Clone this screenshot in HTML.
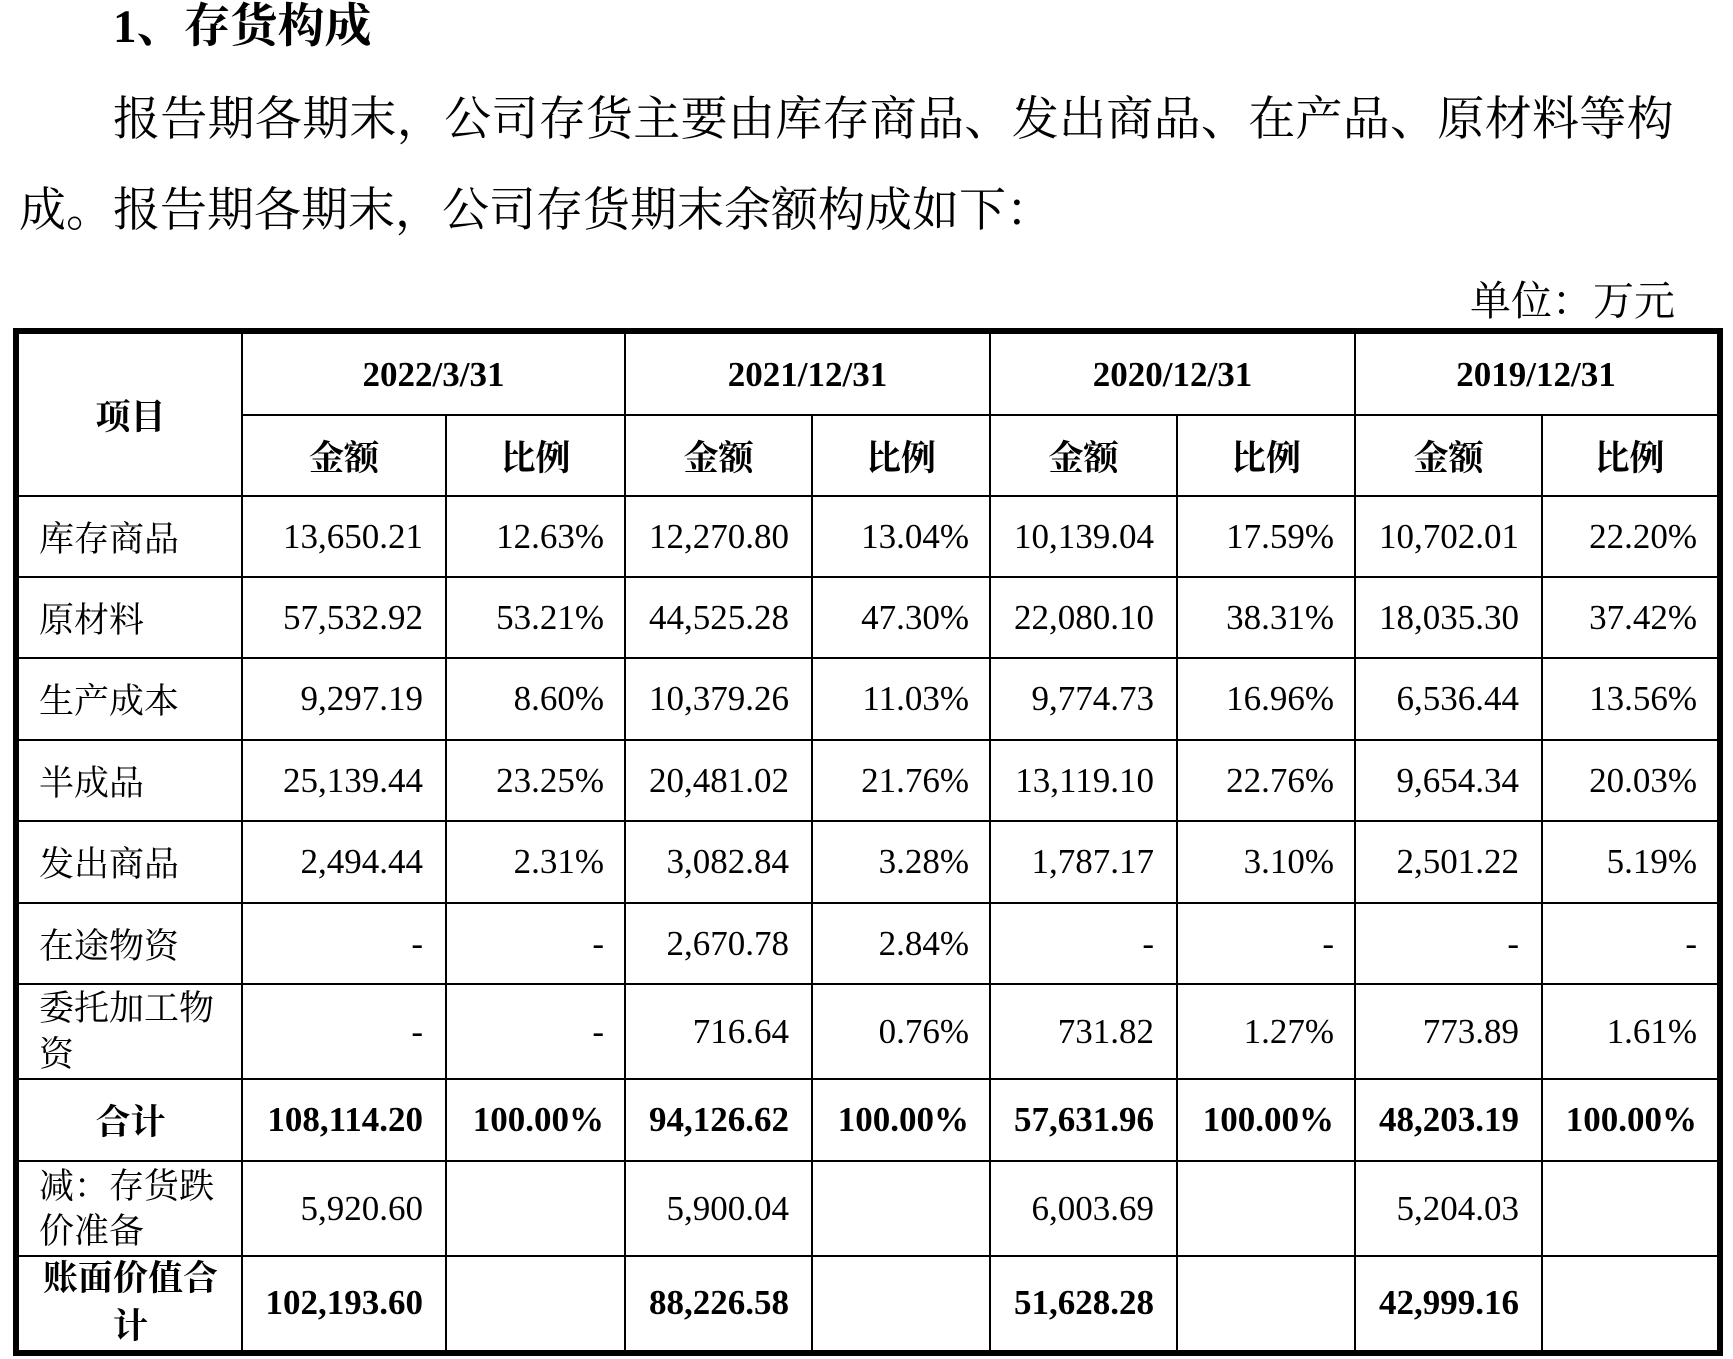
<!DOCTYPE html>
<html>
<head>
<meta charset="utf-8">
<style>
  html, body { margin:0; padding:0; }
  body { width:1733px; height:1359px; background:#fff; position:relative; overflow:hidden;
         font-family:"Liberation Serif","Noto Serif CJK SC",serif; color:#000; }
  .t { position:absolute; white-space:nowrap; }
  .title { left:113px; top:4px; font-size:47px; line-height:47px; font-weight:700; }
  .p1 { left:113px; top:97px; font-size:47px; line-height:47px; letter-spacing:0.3px; }
  .p2 { left:19px; top:188px; font-size:47px; line-height:47px; }
  .unit { right:58px; top:281px; font-size:41px; line-height:41px; }
  .frame { position:absolute; left:13px; top:328px; width:1710px; height:1028px; border:6px solid #000; box-sizing:border-box; }
  .h { position:absolute; height:2px; background:#000; }
  .v { position:absolute; width:2px; background:#000; }
  .g { position:absolute; left:19px; top:334px; width:1698px; height:1016px; display:grid;
       grid-template-columns:223px 204px 179px 187px 178px 187px 178px 187px 175px;
       grid-template-rows:81px 81px 81px 81px 82px 81px 82px 81px 95px 82px 95px 94px;
       font-size:35px; }
  .g > div { display:flex; align-items:center; box-sizing:border-box; overflow:visible; white-space:nowrap; }
  .c { justify-content:center; font-weight:700; }
  .a { justify-content:flex-end; padding-right:23px; }
  .p { justify-content:flex-end; padding-right:21px; }
  .pe { justify-content:flex-end; padding-right:20px; }
  .l { justify-content:flex-start; padding-left:20px; }
  .w { white-space:normal !important; padding-left:20px; padding-right:20px; }
  .b { font-weight:700; }
</style>
</head>
<body>
<div class="t title">1、存货构成</div>
<div class="t p1">报告期各期末，公司存货主要由库存商品、发出商品、在产品、原材料等构</div>
<div class="t p2">成。报告期各期末，公司存货期末余额构成如下：</div>
<div class="t unit">单位：万元</div>

<div class="g">
  <div class="c" style="grid-row:1/3;grid-column:1;">项目</div>
  <div class="c" style="grid-row:1;grid-column:2/4;">2022/3/31</div>
  <div class="c" style="grid-row:1;grid-column:4/6;">2021/12/31</div>
  <div class="c" style="grid-row:1;grid-column:6/8;">2020/12/31</div>
  <div class="c" style="grid-row:1;grid-column:8/10;">2019/12/31</div>
  <div class="c" style="grid-row:2;grid-column:2;">金额</div>
  <div class="c" style="grid-row:2;grid-column:3;">比例</div>
  <div class="c" style="grid-row:2;grid-column:4;">金额</div>
  <div class="c" style="grid-row:2;grid-column:5;">比例</div>
  <div class="c" style="grid-row:2;grid-column:6;">金额</div>
  <div class="c" style="grid-row:2;grid-column:7;">比例</div>
  <div class="c" style="grid-row:2;grid-column:8;">金额</div>
  <div class="c" style="grid-row:2;grid-column:9;">比例</div>

  <div class="l">库存商品</div>
  <div class="a">13,650.21</div><div class="p">12.63%</div>
  <div class="a">12,270.80</div><div class="p">13.04%</div>
  <div class="a">10,139.04</div><div class="p">17.59%</div>
  <div class="a">10,702.01</div><div class="pe">22.20%</div>

  <div class="l">原材料</div>
  <div class="a">57,532.92</div><div class="p">53.21%</div>
  <div class="a">44,525.28</div><div class="p">47.30%</div>
  <div class="a">22,080.10</div><div class="p">38.31%</div>
  <div class="a">18,035.30</div><div class="pe">37.42%</div>

  <div class="l">生产成本</div>
  <div class="a">9,297.19</div><div class="p">8.60%</div>
  <div class="a">10,379.26</div><div class="p">11.03%</div>
  <div class="a">9,774.73</div><div class="p">16.96%</div>
  <div class="a">6,536.44</div><div class="pe">13.56%</div>

  <div class="l">半成品</div>
  <div class="a">25,139.44</div><div class="p">23.25%</div>
  <div class="a">20,481.02</div><div class="p">21.76%</div>
  <div class="a">13,119.10</div><div class="p">22.76%</div>
  <div class="a">9,654.34</div><div class="pe">20.03%</div>

  <div class="l">发出商品</div>
  <div class="a">2,494.44</div><div class="p">2.31%</div>
  <div class="a">3,082.84</div><div class="p">3.28%</div>
  <div class="a">1,787.17</div><div class="p">3.10%</div>
  <div class="a">2,501.22</div><div class="pe">5.19%</div>

  <div class="l">在途物资</div>
  <div class="a">-</div><div class="p">-</div>
  <div class="a">2,670.78</div><div class="p">2.84%</div>
  <div class="a">-</div><div class="p">-</div>
  <div class="a">-</div><div class="pe">-</div>

  <div class="w" style="line-height:46px;"><span>委托加工物资</span></div>
  <div class="a">-</div><div class="p">-</div>
  <div class="a">716.64</div><div class="p">0.76%</div>
  <div class="a">731.82</div><div class="p">1.27%</div>
  <div class="a">773.89</div><div class="pe">1.61%</div>

  <div class="c">合计</div>
  <div class="a b">108,114.20</div><div class="p b">100.00%</div>
  <div class="a b">94,126.62</div><div class="p b">100.00%</div>
  <div class="a b">57,631.96</div><div class="p b">100.00%</div>
  <div class="a b">48,203.19</div><div class="pe b">100.00%</div>

  <div class="w" style="line-height:45px;"><span>减：存货跌价准备</span></div>
  <div class="a">5,920.60</div><div class="p"></div>
  <div class="a">5,900.04</div><div class="p"></div>
  <div class="a">6,003.69</div><div class="p"></div>
  <div class="a">5,204.03</div><div class="pe"></div>

  <div class="w b" style="line-height:48px;justify-content:center;text-align:center;"><span>账面价值合计</span></div>
  <div class="a b">102,193.60</div><div class="p"></div>
  <div class="a b">88,226.58</div><div class="p"></div>
  <div class="a b">51,628.28</div><div class="p"></div>
  <div class="a b">42,999.16</div><div class="pe"></div>
</div>

<div class="frame"></div>
<!-- horizontal lines -->
<div class="h" style="left:241px;top:414px;width:1477px;"></div>
<div class="h" style="left:19px;top:495px;width:1698px;"></div>
<div class="h" style="left:19px;top:576px;width:1698px;"></div>
<div class="h" style="left:19px;top:657px;width:1698px;"></div>
<div class="h" style="left:19px;top:739px;width:1698px;"></div>
<div class="h" style="left:19px;top:820px;width:1698px;"></div>
<div class="h" style="left:19px;top:902px;width:1698px;"></div>
<div class="h" style="left:19px;top:983px;width:1698px;"></div>
<div class="h" style="left:19px;top:1078px;width:1698px;"></div>
<div class="h" style="left:19px;top:1160px;width:1698px;"></div>
<div class="h" style="left:19px;top:1255px;width:1698px;"></div>
<!-- vertical lines -->
<div class="v" style="left:241px;top:334px;height:1016px;"></div>
<div class="v" style="left:624px;top:334px;height:1016px;"></div>
<div class="v" style="left:989px;top:334px;height:1016px;"></div>
<div class="v" style="left:1354px;top:334px;height:1016px;"></div>
<div class="v" style="left:445px;top:415px;height:935px;"></div>
<div class="v" style="left:811px;top:415px;height:935px;"></div>
<div class="v" style="left:1176px;top:415px;height:935px;"></div>
<div class="v" style="left:1541px;top:415px;height:935px;"></div>
</body>
</html>
